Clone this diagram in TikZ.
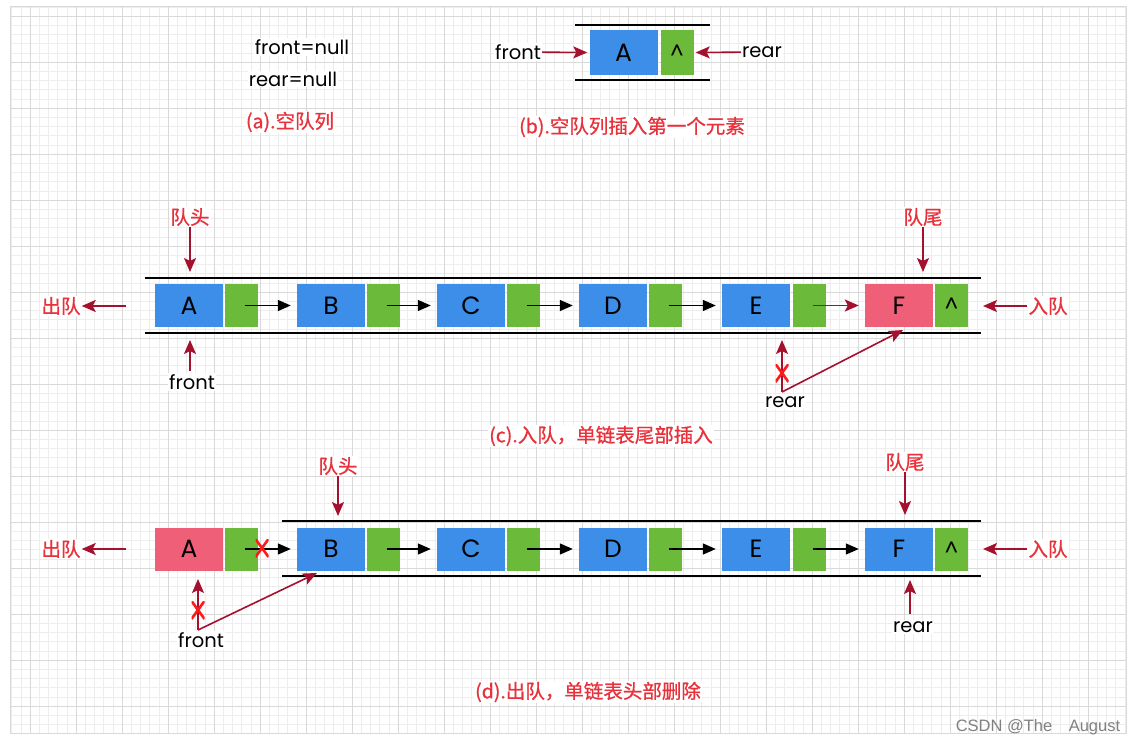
\documentclass[tikz,border=0pt]{standalone}
\usepackage{fontspec}
\setmainfont{Poppins}
\newfontfamily\cjk{Noto Sans CJK SC}[FakeBold=0.8]
\newfontfamily\wmfont{Liberation Sans}
\usetikzlibrary{arrows.meta}
\definecolor{nblue}{HTML}{3C8EE8}
\definecolor{ngreen}{HTML}{6BBA3A}
\definecolor{npink}{HTML}{EF5F78}
\definecolor{darr}{HTML}{A5102E}
\definecolor{rtxt}{HTML}{E8313A}
\definecolor{xred}{HTML}{FF1A1A}
\definecolor{gminor}{HTML}{EDEDED}
\definecolor{gmajor}{HTML}{D9D9D9}
\tikzset{
  databox/.style={fill=nblue, minimum width=68pt, minimum height=43pt, inner sep=0pt, font=\fontsize{25}{25}\selectfont},
  ptrbox/.style={fill=ngreen, minimum width=33pt, minimum height=43pt, inner sep=0pt, font=\fontsize{21}{21}\selectfont},
  rail/.style={line width=1.3pt, black},
  blk/.style={-{Triangle[length=13pt,width=11pt]}, line width=1.4pt, black},
  rarr/.style={-{Stealth[length=14pt,width=12pt,inset=3pt]}, line width=1.6pt, darr},
  lbl/.style={font=\fontsize{19.5}{19.5}\selectfont, fill=white, inner sep=1pt},
  rlbl/.style={font=\cjk\fontsize{19.5}{19.5}\selectfont, text=rtxt, fill=white, inner sep=1pt},
  rcap/.style={font=\cjk\fontsize{19.5}{19.5}\selectfont, text=rtxt, fill=white, inner sep=1pt},
  xmark/.style={minimum width=13pt, minimum height=18pt, inner sep=0pt,
    path picture={\draw[xred, line width=2.6pt]
      (path picture bounding box.north west) -- (path picture bounding box.south east)
      (path picture bounding box.north east) -- (path picture bounding box.south west);}},
}
\begin{document}
\begin{tikzpicture}[x=1pt,y=-1pt]
\useasboundingbox[fill=white] (0,0) rectangle (1136,746);
% grid
\foreach \i in {0,...,121} \draw[gminor, line width=0.5pt] ({11.6+\i*9.2},6) -- ({11.6+\i*9.2},733);
\foreach \i in {0,...,79} \draw[gminor, line width=0.5pt] (10,{6.8+\i*9.2}) -- (1126,{6.8+\i*9.2});
\foreach \i in {0,...,23} \draw[gmajor, line width=0.6pt] ({30+\i*46},6) -- ({30+\i*46},733);
\foreach \i in {0,...,15} \draw[gmajor, line width=0.6pt] (10,{16+\i*46}) -- (1126,{16+\i*46});
\draw[gmajor, line width=0.6pt] (10,6) rectangle (1126,733);

% (a)
\node[lbl] (afront) at (302,47) {front=null};
\node[lbl] (arear) at (293,79) {rear=null};
\node[rcap] (acap) at (290,122) {(a).空队列};

% (b)
\draw[rail] (575,25) -- (710,25);
\draw[rail] (575,80) -- (710,80);
\node[databox, minimum height=45pt] (bA) at (623.5,52.5) {A};
\node[ptrbox, minimum height=45pt] (bN) at (677,52.5) {\textasciicircum};
\node[lbl] (bfront) at (518,52) {front};
\node[lbl] (brear) at (762,52) {rear};
\draw[rarr] (bfront) -- ([xshift=-2pt]bA.west);
\draw[rarr] (brear) -- ([xshift=2pt]bN.east);
\node[rcap] (bcap) at (632,127) {(b).空队列插入第一个元素};

% (c)
\draw[rail] (145,278) -- (981,278);
\draw[rail] (145,333) -- (981,333);
\node[databox] (cA) at (189,305.5) {A};
\node[ptrbox] (cAn) at (241.5,305.5) {};
\node[databox] (cB) at (331,305.5) {B};
\node[ptrbox] (cBn) at (383.5,305.5) {};
\node[databox] (cC) at (471,305.5) {C};
\node[ptrbox] (cCn) at (523.5,305.5) {};
\node[databox] (cD) at (613,305.5) {D};
\node[ptrbox] (cDn) at (665.5,305.5) {};
\node[databox] (cE) at (756,305.5) {E};
\node[ptrbox] (cEn) at (809.5,305.5) {};
\node[databox, fill=npink] (cF) at (899,305.5) {F};
\node[ptrbox] (cFn) at (951.5,305.5) {\textasciicircum};
\draw[blk] ([xshift=3pt]cAn.center) -- ([xshift=-6pt]cB.west);
\draw[blk] ([xshift=3pt]cBn.center) -- ([xshift=-6pt]cC.west);
\draw[blk] ([xshift=3pt]cCn.center) -- ([xshift=-6pt]cD.west);
\draw[blk] ([xshift=3pt]cDn.center) -- ([xshift=-6pt]cE.west);
\draw[rarr] ([xshift=3pt]cEn.center) -- ([xshift=-6pt]cF.west);
\node[rlbl] (cHead) at (190,217) {队头};
\coordinate (cHeadT) at (190,272);
\draw[rarr] (cHead) -- (cHeadT);
\node[rlbl] (cTail) at (923,217) {队尾};
\coordinate (cTailT) at (923,272);
\draw[rarr] (cTail) -- (cTailT);
\node[rlbl] (cOut) at (61,306) {出队};
\coordinate (cOutS) at (126,306);
\draw[rarr] (cOutS) -- (cOut);
\node[rlbl] (cIn) at (1048,306) {入队};
\coordinate (cInT) at (983,306);
\draw[rarr] (cIn) -- (cInT);
\node[lbl] (cFront) at (192,382) {front};
\coordinate (cFrontB) at (190,371);
\coordinate (cFrontT) at (190,340);
\draw[rarr] (cFrontB) -- (cFrontT);
\node[lbl] (cRear) at (785,402) {rear};
\coordinate (cRearB) at (782,392);
\coordinate (cRearT) at (782,340);
\coordinate (cRearN) at (903,330);
\draw[rarr] (cRearB) -- (cRearT);
\draw[rarr] (cRearB) -- (cRearN);
\node[xmark] (cX) at (782,373) {};
\node[rcap] (ccap) at (601,436) {(c).入队，单链表尾部插入};

% (d)
\draw[rail] (282,521) -- (981,521);
\draw[rail] (282,576) -- (981,576);
\node[databox, fill=npink] (dA) at (189,549) {A};
\node[ptrbox] (dAn) at (241.5,549) {};
\node[databox] (dB) at (331,549) {B};
\node[ptrbox] (dBn) at (383.5,549) {};
\node[databox] (dC) at (471,549) {C};
\node[ptrbox] (dCn) at (523.5,549) {};
\node[databox] (dD) at (613,549) {D};
\node[ptrbox] (dDn) at (665.5,549) {};
\node[databox] (dE) at (756,549) {E};
\node[ptrbox] (dEn) at (809.5,549) {};
\node[databox] (dF) at (899,549) {F};
\node[ptrbox] (dFn) at (951.5,549) {\textasciicircum};
\draw[blk] ([xshift=3pt]dAn.center) -- ([xshift=-6pt]dB.west);
\draw[blk] ([xshift=3pt]dBn.center) -- ([xshift=-6pt]dC.west);
\draw[blk] ([xshift=3pt]dCn.center) -- ([xshift=-6pt]dD.west);
\draw[blk] ([xshift=3pt]dDn.center) -- ([xshift=-6pt]dE.west);
\draw[blk] ([xshift=3pt]dEn.center) -- ([xshift=-6pt]dF.west);
\node[xmark] (dX1) at (262,548) {};
\node[rlbl] (dHead) at (338,466) {队头};
\coordinate (dHeadT) at (338,516);
\draw[rarr] (dHead) -- (dHeadT);
\node[rlbl] (dTail) at (905,462) {队尾};
\coordinate (dTailT) at (905,515);
\draw[rarr] (dTail) -- (dTailT);
\node[rlbl] (dOut) at (61,549) {出队};
\coordinate (dOutS) at (126,549);
\draw[rarr] (dOutS) -- (dOut);
\node[rlbl] (dIn) at (1048,549) {入队};
\coordinate (dInT) at (983,549);
\draw[rarr] (dIn) -- (dInT);
\node[lbl] (dFront) at (201,640) {front};
\coordinate (dFrontB) at (198,630);
\coordinate (dFrontT) at (198,579);
\coordinate (dFrontN) at (317,573);
\draw[rarr] (dFrontB) -- (dFrontT);
\draw[rarr] (dFrontB) -- (dFrontN);
\node[xmark] (dX2) at (198,610) {};
\node[lbl] (dRear) at (913,627) {rear};
\coordinate (dRearB) at (910,614);
\coordinate (dRearT) at (910,580);
\draw[rarr] (dRearB) -- (dRearT);
\node[rcap] (dcap) at (588,692) {(d).出队，单链表头部删除};

\node[font=\wmfont\fontsize{16.5}{16.5}\selectfont, text=black!50, inner sep=1pt] (wm) at (1038,727) {CSDN @The\quad August};
\end{tikzpicture}
\end{document}
